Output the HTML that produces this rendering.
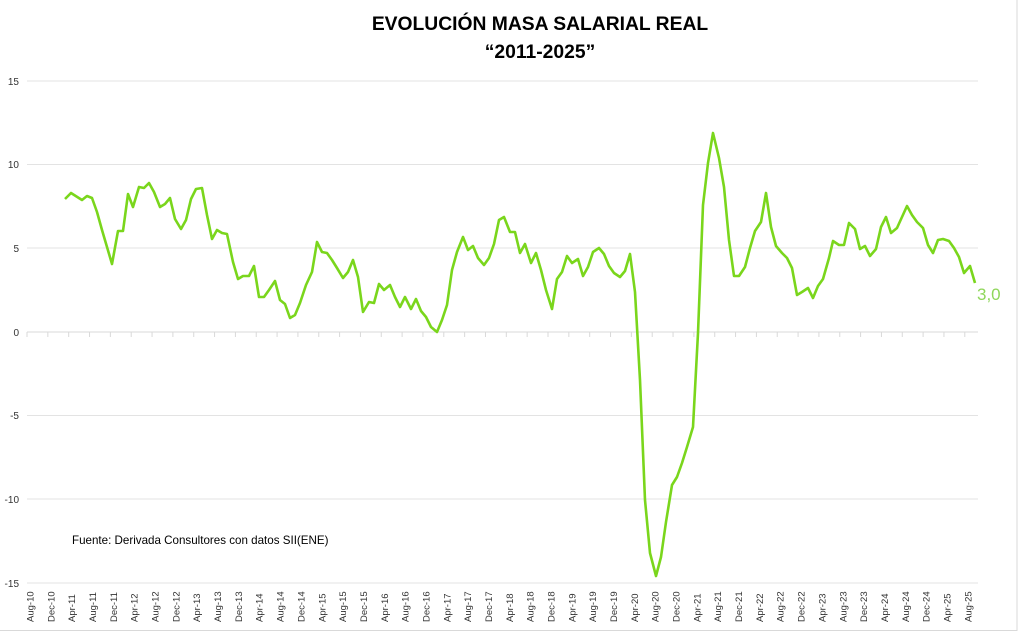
<!DOCTYPE html>
<html><head><meta charset="utf-8"><style>
html,body{margin:0;padding:0;background:#fff;}
svg{display:block;font-family:"Liberation Sans",sans-serif;}
</style></head><body>
<svg width="1024" height="637" viewBox="0 0 1024 637">
<rect width="1024" height="637" fill="#fff"/>
<line x1="1017" y1="0" x2="1017" y2="631" stroke="#d9d9d9"/>
<line x1="0" y1="630.5" x2="1017" y2="630.5" stroke="#d9d9d9"/>
<text x="540" y="30" text-anchor="middle" font-size="19.3" font-weight="bold" fill="#000">EVOLUCIÓN MASA SALARIAL REAL</text>
<text x="540" y="58" text-anchor="middle" font-size="19.3" font-weight="bold" fill="#000">“2011-2025”</text>
<g stroke="#e3e3e3" stroke-width="1">
<line x1="27" y1="81" x2="978" y2="81"/>
<line x1="27" y1="164.5" x2="978" y2="164.5"/>
<line x1="27" y1="248" x2="978" y2="248"/>
<line x1="27" y1="415.5" x2="978" y2="415.5"/>
<line x1="27" y1="499" x2="978" y2="499"/>
<line x1="27" y1="583" x2="978" y2="583"/>
<line x1="27" y1="332" x2="978" y2="332" stroke="#d9d9d9"/>
</g>
<g font-size="10" fill="#333" text-anchor="end">
<text x="19" y="85">15</text><text x="19" y="168">10</text><text x="19" y="252">5</text>
<text x="19" y="336">0</text><text x="19" y="419">-5</text><text x="19" y="503">-10</text><text x="19" y="587">-15</text>
</g>
<g id="ticks" stroke="#d9d9d9"></g>
<g id="xl" font-size="9.5" fill="#333"></g>
<text x="72" y="544" font-size="11.6" fill="#000">Fuente: Derivada Consultores con datos SII(ENE)</text>
<polyline fill="none" stroke="#7ad61c" stroke-width="2.6" stroke-linejoin="round" points="65,199 71,193 82,200 87,196 92,198 97,212 102,230 107,247 112,264 118,231 123,231 128,194 133,207 139,187 144,188 149,183 154,192 160,207 165,204 170,198 175,219 181,229 186,220 191,199 196,189 202,188 207,215 212,239 217,230 222,233 227,234 233,262 238,279 243,276 249,276 254,266 259,297 264,297 269,290 275,281 280,300 285,304 290,318 295,315 300,303 306,285 312,272 317,242 322,252 327,253 332,260 337,268 343,278 348,272 353,260 358,277 363,312 369,302 374,303 379,284 384,290 390,285 395,297 400,307 405,297 411,309 416,299 421,311 426,317 431,327 437,332 442,320 447,305 452,270 457,252 463,237 468,250 473,246 478,258 484,265 489,258 494,244 499,220 504,217 510,232 515,232 520,253 525,244 531,263 536,253 541,270 546,290 552,309 557,279 562,272 567,256 572,263 578,259 583,276 588,267 593,252 599,248 604,254 609,266 614,273 620,277 625,271 630,254 635,292 640,380 645,500 650,553 656,576 661,557 666,522 672,485 677,477 682,463 687,447 693,427 698,333 703,205 708,163 713,133 719,158 724,187 729,240 734,276 739,276 745,267 750,248 755,231 761,222 766,193 771,227 776,246 782,253 787,258 792,268 797,295 802,292 808,288 813,298 818,286 823,279 829,258 833,241 839,245 844,245 849,223 855,229 860,249 865,246 870,256 876,249 881,227 886,217 891,233 897,228 902,217 907,206 912,215 917,222 923,228 928,245 933,253 938,240 943,239 949,241 954,248 959,257 964,273 970,266 975,283"/>
<text x="977" y="300" font-size="17" fill="#8fd65a">3,0</text>
<script>
var names=["Aug","Dec","Apr"];var t=document.getElementById("ticks"),xl=document.getElementById("xl");
var ns="http://www.w3.org/2000/svg";
for(var i=0;i<46;i++){var x=27+i*20.84;
var l=document.createElementNS(ns,"line");l.setAttribute("x1",x);l.setAttribute("x2",x);l.setAttribute("y1",332);l.setAttribute("y2",337);t.appendChild(l);
var m=i*4;var yr=10+Math.floor((m+7)/12);var lab=names[i%3]+"-"+yr;
var tx=document.createElementNS(ns,"text");var cx=x+6.5;tx.setAttribute("transform","translate("+cx+",622) rotate(-90)");tx.textContent=lab;xl.appendChild(tx);}
</script>
</svg>
</body></html>
